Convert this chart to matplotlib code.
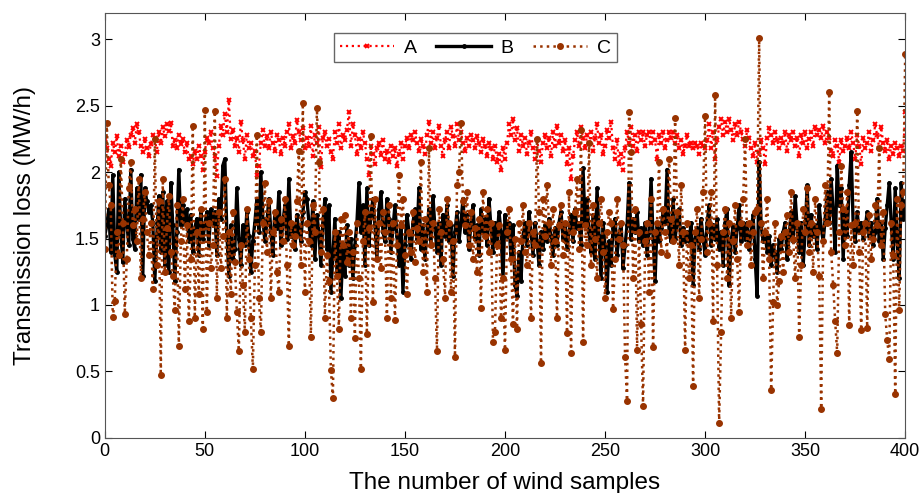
import numpy as np
import matplotlib
matplotlib.use("Agg")
import matplotlib.pyplot as plt

# ── data ─────────────────────────────────────────────────────────────────────
samples = np.arange(0, 401)

loss_a = [
    2.25, 2.18, 2.10, 2.05, 2.22, 2.15, 2.27, 2.12, 2.20, 2.08, 2.14, 2.24, 2.19, 2.28, 2.33, 2.22, 2.36, 2.30, 2.20, 2.15,
    2.25, 2.18, 2.12, 2.21, 2.28, 2.26, 2.15, 2.30, 2.22, 2.34, 2.27, 2.36, 2.31, 2.37, 2.20, 2.24, 2.18, 2.28, 2.21, 2.25,
    2.15, 2.22, 2.10, 2.12, 2.06, 2.16, 2.10, 2.20, 2.12, 2.02, 2.15, 2.26, 2.22, 2.30, 2.18, 2.12, 1.97, 2.20, 2.35, 2.28,
    2.44, 2.30, 2.54, 2.25, 2.32, 2.20, 2.26, 2.15, 2.38, 2.24, 2.10, 2.28, 2.18, 2.22, 2.12, 2.16, 1.98, 2.05, 2.22, 2.32,
    2.20, 2.27, 2.18, 2.30, 2.22, 2.16, 2.28, 2.24, 2.14, 2.26, 2.20, 2.30, 2.36, 2.18, 2.27, 2.22, 2.39, 2.30, 2.24, 2.33,
    2.18, 2.26, 2.20, 2.35, 2.12, 2.28, 2.22, 2.34, 2.04, 2.26, 2.30, 2.20, 2.25, 2.15, 2.10, 2.30, 2.22, 2.36, 2.18, 2.28,
    2.24, 2.32, 2.45, 2.20, 2.36, 2.28, 2.14, 2.25, 2.18, 2.30, 2.22, 2.10, 1.98, 2.20, 2.14, 2.06, 2.18, 2.22, 2.13, 2.24,
    2.10, 2.16, 2.08, 2.20, 2.12, 2.18, 2.05, 2.14, 2.22, 2.10, 2.20, 2.26, 2.18, 2.28, 2.24, 2.30, 2.22, 2.16, 2.25, 2.20,
    2.14, 2.28, 2.38, 2.22, 2.30, 2.18, 2.26, 2.35, 2.20, 2.12, 2.24, 2.30, 2.18, 2.34, 2.27, 2.20, 2.36, 2.24, 2.30, 2.22,
    2.16, 2.26, 2.20, 2.28, 2.24, 2.18, 2.27, 2.22, 2.15, 2.25, 2.20, 2.12, 2.22, 2.18, 2.10, 2.20, 2.08, 2.14, 2.02, 2.18,
    2.10, 2.22, 2.36, 2.28, 2.40, 2.24, 2.33, 2.16, 2.28, 2.20, 2.26, 2.14, 2.22, 2.30, 2.18, 2.10, 2.24, 2.16, 2.08, 2.22,
    2.28, 2.18, 2.26, 2.12, 2.30, 2.20, 2.35, 2.22, 2.28, 2.16, 2.24, 2.06, 2.18, 1.95, 2.12, 2.24, 2.30, 2.20, 2.34, 2.26,
    2.18, 2.28, 2.22, 2.30, 2.16, 2.26, 2.36, 2.22, 2.28, 2.14, 2.20, 2.32, 2.26, 2.38, 2.18, 2.10, 2.24, 2.06, 2.14, 2.02,
    2.18, 2.30, 2.22, 2.34, 2.20, 2.28, 2.16, 2.30, 2.24, 2.30, 2.20, 2.28, 2.30, 2.22, 2.30, 2.24, 2.10, 2.28, 2.22, 2.30,
    2.18, 2.24, 2.30, 2.26, 2.30, 2.22, 2.28, 2.18, 2.24, 2.14, 2.20, 2.28, 2.20, 2.22, 2.18, 2.22, 2.20, 2.14, 2.22, 2.20,
    2.18, 2.24, 2.36, 2.18, 2.30, 2.10, 2.24, 2.34, 2.40, 2.28, 2.38, 2.30, 2.40, 2.32, 2.24, 2.36, 2.28, 2.38, 2.30, 2.25,
    2.20, 2.32, 2.26, 2.18, 2.12, 2.22, 2.08, 2.15, 2.24, 2.18, 2.06, 2.26, 2.33, 2.28, 2.22, 2.30, 2.24, 2.18, 2.26, 2.22,
    2.30, 2.16, 2.28, 2.24, 2.30, 2.20, 2.26, 2.12, 2.28, 2.22, 2.30, 2.18, 2.25, 2.30, 2.20, 2.34, 2.28, 2.32, 2.26, 2.35,
    2.22, 2.30, 2.26, 2.16, 2.12, 2.24, 2.20, 2.08, 2.24, 2.16, 2.20, 2.26, 2.18, 2.30, 2.22, 2.10, 2.28, 2.20, 2.06, 2.26,
    2.18, 2.22, 2.30, 2.16, 2.24, 2.36, 2.28, 2.18, 2.34, 2.22, 2.16, 2.24, 2.10, 2.20, 2.14, 2.22, 2.18, 2.12, 2.20, 2.16,
    2.45,
]

loss_b = [
    1.52, 1.60, 1.72, 1.40, 1.98, 1.38, 1.25, 2.00, 1.55, 1.32, 1.80, 1.62, 1.45, 2.02, 1.50, 1.42, 1.88, 1.65, 1.98, 1.22,
    1.88, 1.78, 1.70, 1.75, 1.62, 1.18, 1.52, 1.82, 1.40, 1.85, 1.30, 1.78, 1.25, 1.92, 1.60, 1.18, 1.55, 2.02, 1.60, 1.75,
    1.62, 1.72, 1.48, 1.68, 1.40, 1.58, 1.65, 1.38, 1.72, 1.50, 1.60, 1.70, 1.45, 1.72, 1.62, 1.70, 1.38, 1.80, 1.65, 2.05,
    2.10, 1.55, 1.22, 1.60, 1.35, 1.42, 1.88, 1.50, 1.30, 1.60, 1.45, 1.70, 1.52, 1.25, 1.48, 1.62, 1.80, 1.55, 2.00, 1.65,
    1.48, 1.62, 1.80, 1.55, 1.38, 1.70, 1.58, 1.85, 1.45, 1.62, 1.75, 1.50, 1.95, 1.52, 1.60, 1.42, 1.68, 1.55, 1.48, 1.70,
    1.85, 1.80, 1.62, 1.45, 1.78, 1.35, 1.68, 1.55, 1.30, 1.62, 1.80, 1.42, 1.75, 1.10, 1.38, 1.65, 1.25, 1.55, 1.05, 1.42,
    1.22, 1.60, 1.30, 1.50, 1.20, 1.45, 1.62, 1.92, 1.55, 1.75, 1.30, 1.88, 1.45, 1.68, 1.80, 1.60, 1.35, 1.72, 1.85, 1.55,
    1.48, 1.80, 1.65, 1.40, 1.58, 1.75, 1.52, 1.30, 1.62, 1.10, 1.45, 1.68, 1.55, 1.35, 1.62, 1.72, 1.50, 1.88, 1.42, 1.60,
    1.35, 1.55, 1.72, 1.45, 1.82, 1.58, 1.40, 1.62, 1.30, 1.68, 1.52, 1.75, 1.48, 1.60, 1.22, 1.55, 1.70, 1.48, 1.62, 1.80,
    1.55, 1.68, 1.42, 1.62, 1.75, 1.50, 1.60, 1.38, 1.72, 1.55, 1.65, 1.45, 1.80, 1.58, 1.40, 1.62, 1.48, 1.70, 1.55, 1.20,
    1.68, 1.52, 1.62, 1.35, 1.60, 1.15, 1.07, 1.40, 1.18, 1.52, 1.62, 1.45, 1.70, 1.55, 1.38, 1.62, 1.48, 1.30, 1.55, 1.42,
    1.60, 1.48, 1.65, 1.52, 1.38, 1.58, 1.45, 1.62, 1.70, 1.50, 1.60, 1.42, 1.55, 1.68, 1.48, 1.72, 1.58, 1.62, 1.45, 2.03,
    1.62, 1.80, 1.55, 1.40, 1.68, 1.35, 1.88, 1.52, 1.20, 1.62, 1.45, 1.10, 1.48, 1.30, 1.58, 1.65, 1.38, 1.52, 1.62, 1.28,
    1.45, 1.60, 1.92, 1.50, 1.65, 1.55, 1.70, 1.48, 1.58, 1.45, 1.62, 1.38, 1.55, 1.95, 1.50, 1.18, 1.62, 1.48, 1.58, 1.70,
    1.62, 2.02, 1.55, 1.48, 1.80, 1.50, 1.62, 1.72, 1.45, 1.58, 1.48, 1.55, 1.48, 1.62, 1.15, 1.50, 1.58, 1.42, 1.65, 1.50,
    1.38, 1.62, 1.75, 1.45, 1.60, 1.50, 1.65, 1.42, 1.55, 1.30, 1.62, 1.72, 1.15, 1.48, 1.60, 1.40, 1.58, 1.75, 1.48, 1.62,
    1.50, 1.62, 1.42, 1.55, 1.68, 1.35, 1.07, 2.08, 1.60, 1.48, 1.55, 1.40, 1.52, 1.30, 1.45, 1.38, 1.25, 1.50, 1.42, 1.55,
    1.62, 1.35, 1.52, 1.70, 1.48, 1.82, 1.58, 1.40, 1.62, 1.30, 1.55, 1.90, 1.45, 1.68, 1.52, 1.60, 1.42, 1.75, 1.58, 1.48,
    1.65, 1.85, 1.62, 1.95, 1.70, 1.40, 2.05, 1.75, 1.88, 1.35, 1.72, 1.52, 1.90, 2.15, 1.60, 1.48, 1.70, 1.55, 1.62, 1.50,
    1.58, 1.70, 1.52, 1.62, 1.45, 1.55, 1.80, 1.48, 1.62, 1.35, 1.58, 1.75, 1.92, 1.62, 1.35, 1.88, 1.48, 1.20, 1.92, 1.65,
    1.78,
]

loss_c = [
    1.42, 2.37, 1.90, 1.75, 0.91, 1.03, 1.55, 1.38, 2.10, 1.62, 0.93, 1.35, 1.88, 2.08, 1.60, 1.72, 1.48, 1.95, 1.20, 1.65,
    1.85, 1.55, 1.38, 1.62, 1.12, 2.25, 1.30, 1.78, 0.47, 1.95, 1.25, 1.58, 1.82, 1.40, 1.22, 0.96, 1.75, 0.69, 1.48, 1.80,
    1.12, 1.60, 0.88, 1.35, 2.35, 0.90, 1.55, 1.08, 1.72, 0.82, 2.47, 0.95, 1.62, 1.28, 1.45, 2.46, 1.05, 1.70, 1.28, 1.52,
    1.95, 0.90, 1.55, 1.08, 1.70, 1.32, 0.95, 0.65, 1.45, 1.15, 0.80, 1.72, 1.35, 0.90, 0.52, 1.30, 2.28, 1.05, 0.80, 1.62,
    1.92, 1.40, 1.78, 1.05, 1.55, 1.70, 1.25, 1.10, 1.65, 1.48, 1.80, 1.30, 0.69, 1.62, 1.45, 1.52, 1.78, 2.16, 1.30, 2.52,
    1.10, 1.62, 1.48, 0.76, 1.75, 1.55, 2.48, 2.08, 1.40, 1.72, 0.90, 1.38, 1.18, 0.51, 0.30, 1.55, 1.22, 0.82, 1.65, 1.45,
    1.68, 1.32, 1.55, 0.90, 1.40, 0.75, 1.62, 1.20, 0.52, 1.48, 1.70, 0.78, 1.58, 2.27, 1.02, 1.80, 1.35, 1.62, 1.28, 1.70,
    1.55, 0.90, 1.75, 1.05, 1.62, 0.89, 1.45, 1.98, 1.60, 1.80, 1.38, 1.08, 1.55, 1.40, 1.70, 1.32, 1.58, 1.48, 2.08, 1.25,
    1.65, 1.10, 2.18, 1.45, 1.62, 1.20, 0.65, 1.72, 1.55, 1.35, 1.05, 1.80, 1.62, 1.10, 1.48, 0.61, 1.90, 2.00, 2.37, 1.78,
    1.60, 1.85, 1.45, 1.70, 1.35, 1.58, 1.25, 1.65, 0.98, 1.85, 1.52, 1.72, 1.40, 1.62, 0.72, 0.80, 1.45, 1.60, 0.90, 1.20,
    0.66, 1.55, 1.72, 1.35, 0.86, 1.50, 0.82, 1.62, 1.48, 1.75, 1.40, 1.30, 1.62, 0.90, 1.55, 1.45, 2.25, 1.70, 0.56, 1.80,
    1.52, 1.90, 1.62, 1.30, 1.72, 1.48, 0.90, 1.60, 1.75, 1.38, 1.62, 0.79, 1.85, 0.64, 1.55, 1.70, 1.95, 1.42, 2.32, 0.72,
    1.60, 1.45, 2.22, 1.30, 1.75, 1.50, 1.20, 1.62, 1.80, 1.40, 1.05, 1.55, 1.70, 1.62, 0.97, 1.35, 1.80, 1.50, 1.62, 1.45,
    0.61, 0.28, 2.45, 2.15, 1.20, 1.72, 0.66, 1.55, 0.86, 0.24, 1.48, 1.62, 1.10, 1.80, 0.68, 1.55, 1.62, 2.08, 1.40, 1.72,
    1.55, 1.38, 2.10, 1.65, 1.48, 2.41, 1.70, 1.30, 1.90, 1.55, 0.66, 1.62, 1.20, 1.45, 0.39, 1.55, 1.72, 1.05, 1.50, 1.85,
    2.42, 1.40, 1.62, 1.85, 0.88, 2.58, 1.30, 0.11, 0.80, 1.55, 1.72, 1.20, 1.62, 0.90, 1.48, 1.75, 1.35, 0.95, 1.62, 1.80,
    2.25, 1.45, 1.62, 1.30, 1.55, 1.70, 1.72, 3.01, 1.62, 1.20, 1.55, 1.80, 1.35, 0.36, 1.02, 1.62, 1.00, 1.18, 1.52, 1.25,
    1.55, 1.68, 1.40, 1.85, 1.50, 1.20, 1.62, 0.76, 1.30, 1.72, 1.55, 1.88, 1.40, 1.62, 1.25, 1.80, 1.55, 1.22, 0.22, 1.48,
    1.90, 1.62, 2.60, 1.40, 1.15, 0.88, 0.64, 1.55, 2.05, 1.72, 1.45, 1.85, 0.85, 1.60, 1.30, 1.62, 2.46, 1.40, 0.81, 1.55,
    1.62, 0.83, 1.68, 1.35, 1.50, 1.75, 1.60, 2.18, 1.45, 1.70, 0.93, 0.74, 0.59, 1.62, 1.38, 0.33, 1.80, 0.96, 1.75, 1.85,
    2.89,
]

x_ticks = [0, 50, 100, 150, 200, 250, 300, 350, 400]
y_ticks = [0, 0.5, 1, 1.5, 2, 2.5, 3]
y_tick_labels = ["0", "0.5", "1", "1.5", "2", "2.5", "3"]

# ── plot ─────────────────────────────────────────────────────────────────────
plt.rcParams["font.family"] = ["Liberation Sans", "DejaVu Sans"]

fig = plt.figure(figsize=(9.19, 4.93), dpi=100)
ax = fig.add_axes([0.114, 0.112, 0.871, 0.862])

ax.plot(samples, loss_a, color="#ff0000", ls=":", lw=1.6,
        marker="x", ms=3.5, mew=1.4, label="A")
ax.plot(samples, loss_b, color="black", ls="-", lw=2.4,
        marker="o", ms=2.5, label="B")
ax.plot(samples, loss_c, color="#993300", ls=":", lw=1.8,
        marker="o", ms=4, label="C")

ax.set_xlim(0, 400)
ax.set_ylim(0, 3.2)
ax.set_xticks(x_ticks)
ax.set_yticks(y_ticks)
ax.set_yticklabels(y_tick_labels)
ax.tick_params(direction="in", top=True, right=True, labelsize=13, length=5)
for s in ax.spines.values():
    s.set_color("#555555")

ax.set_xlabel("The number of wind samples", fontsize=17.5, labelpad=9)
ax.set_ylabel("Transmission loss (MW/h)", fontsize=17.5, labelpad=28)

leg = ax.legend(loc="upper center", bbox_to_anchor=(0.463, 0.975), ncol=3,
                fontsize=14, fancybox=False, edgecolor="#666666",
                handlelength=2.8, columnspacing=1.0, handletextpad=0.5,
                borderpad=0.3, framealpha=1)
leg.get_frame().set_linewidth(1.0)

fig.savefig("out.png", dpi=100)
